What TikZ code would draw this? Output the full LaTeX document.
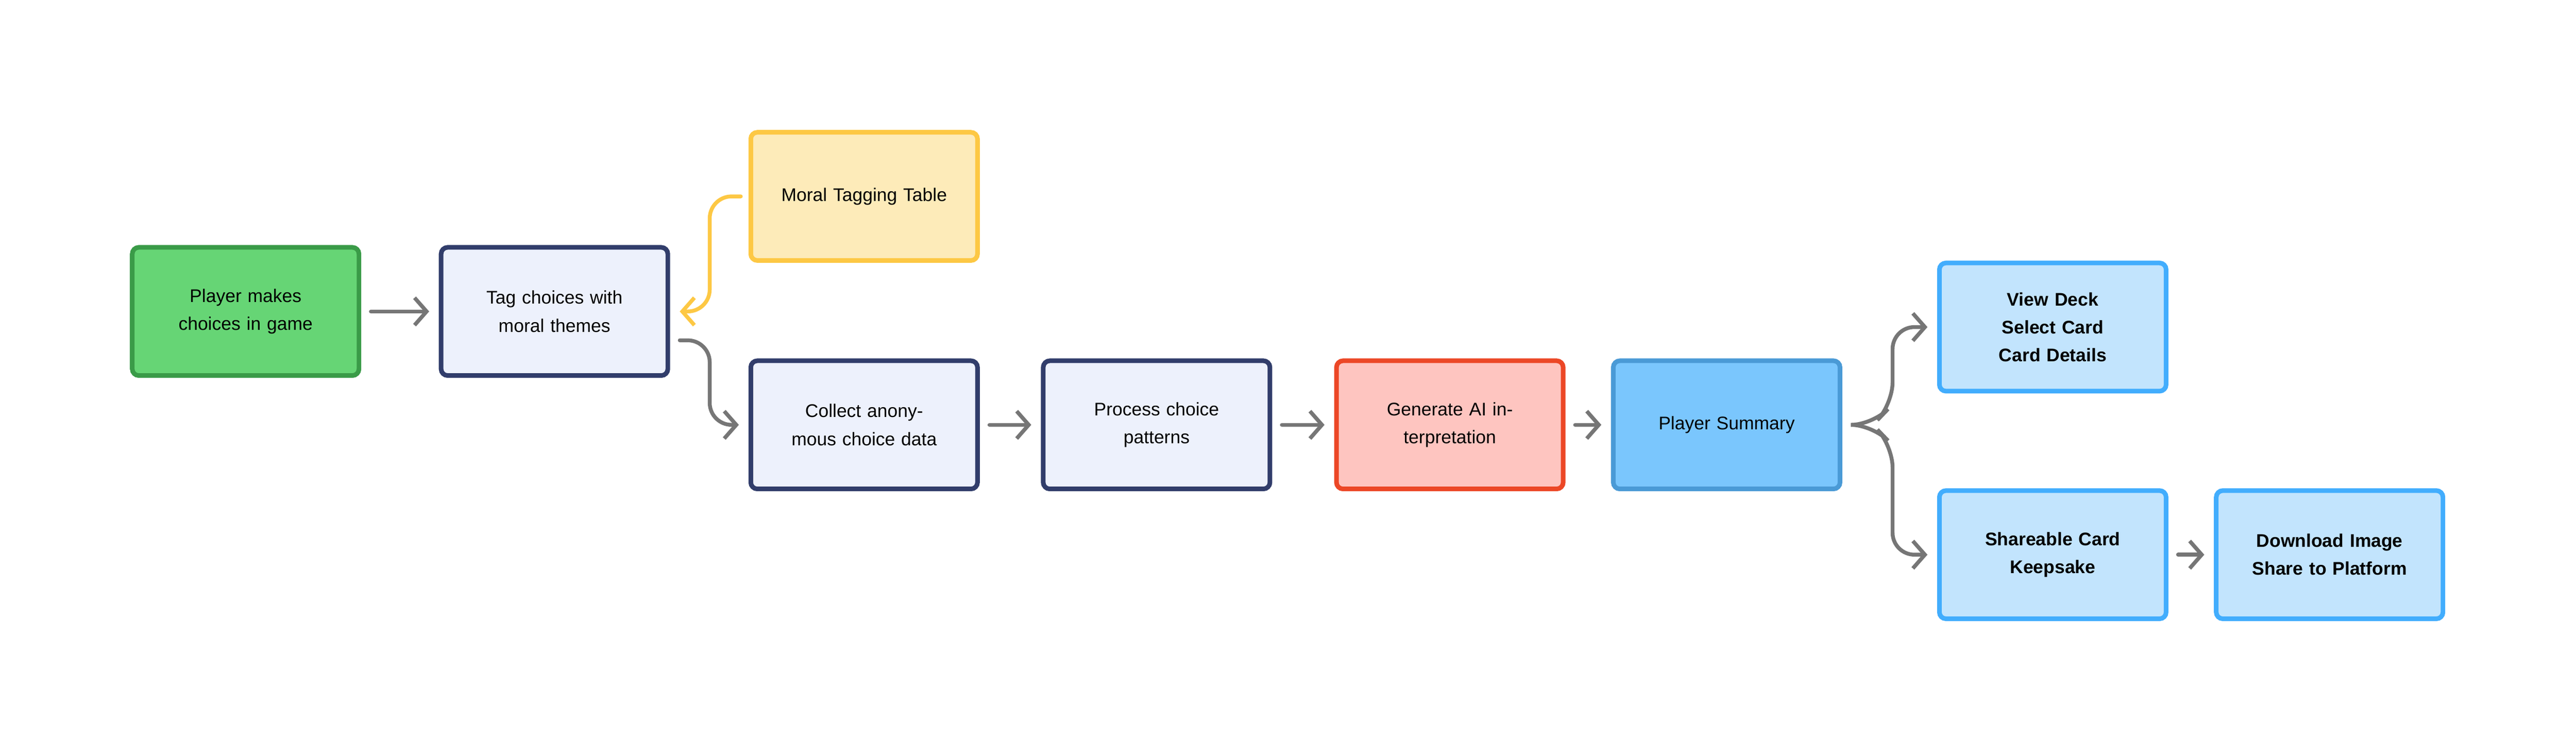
\documentclass[tikz,border=0pt]{standalone}
\usepackage{fontspec}
\setmainfont{Liberation Sans}
\usetikzlibrary{arrows.meta}
\definecolor{grn}{HTML}{66D575}
\definecolor{grnd}{HTML}{3A9B48}
\definecolor{lav}{HTML}{EDF1FC}
\definecolor{navy}{HTML}{313D6B}
\definecolor{ylw}{HTML}{FDEBB9}
\definecolor{ylwd}{HTML}{FDC844}
\definecolor{pnk}{HTML}{FEC5C0}
\definecolor{redd}{HTML}{EC4726}
\definecolor{sky}{HTML}{7AC6FD}
\definecolor{skyd}{HTML}{4A9AD6}
\definecolor{pale}{HTML}{C2E4FD}
\definecolor{bld}{HTML}{42ADFD}
\definecolor{ln}{HTML}{767676}
\tikzset{
  box/.style={draw, rounded corners=1.2mm, line width=2.4pt, minimum width=41.4mm,
    minimum height=23.4mm, align=center, text width=36mm, font=\fontsize{9.5}{14.5}\selectfont},
  flow/.style={draw=ln, line width=2pt, line cap=round, rounded corners=4mm,
    -{Straight Barb[length=2.2mm,width=5mm,line width=2pt]}},
}
\begin{document}
\begin{tikzpicture}[x=0.3mm,y=-0.3mm]
\useasboundingbox (0,0) rectangle (1568,458);
\node[box, fill=grn, draw=grnd] (player) at (149.5,189.5) {Player makes choices in game};
\node[box, fill=lav, draw=navy] (tag) at (337.5,189.5) {Tag choices with moral themes};
\node[box, fill=ylw, draw=ylwd] (table) at (526,119.5) {Moral Tagging Table};
\node[box, fill=lav, draw=navy] (collect) at (526,258.5) {Collect anonymous choice data};
\node[box, fill=lav, draw=navy] (process) at (704,258.5) {Process choice patterns};
\node[box, fill=pnk, draw=redd] (ai) at (882.5,258.5) {Generate AI interpretation};
\node[box, fill=sky, draw=skyd] (summary) at (1051,258.5) {Player Summary};
\node[box, fill=pale, draw=bld, font=\bfseries\fontsize{9.5}{14.5}\selectfont] (deck) at (1249.5,199) {View Deck\\Select Card\\Card Details};
\node[box, fill=pale, draw=bld, font=\bfseries\fontsize{9.5}{14.5}\selectfont] (share) at (1249.5,337.5) {Shareable Card\\Keepsake};
\node[box, fill=pale, draw=bld, font=\bfseries\fontsize{9.5}{14.5}\selectfont] (download) at (1418,337.5) {Download Image\\Share to Platform};

\draw[flow] ([xshift=5]player.east) -- ([xshift=-5]tag.west);
\draw[flow, draw=ylwd] ([xshift=-4]table.west) -| (432,189.5) -- ([xshift=5]tag.east);
\draw[flow] ([xshift=5,yshift=-15]tag.east) -| (432,258.5) -- ([xshift=-5]collect.west);
\draw[flow] ([xshift=5]collect.east) -- ([xshift=-5]process.west);
\draw[flow] ([xshift=5]process.east) -- ([xshift=-5]ai.west);
\draw[flow] ([xshift=5]ai.east) -- ([xshift=-5]summary.west);
\draw[flow] ([xshift=5]summary.east) -- (1140,258.5) -- (1152,246) |- ([xshift=-5]deck.west);
\draw[flow] ([xshift=5]summary.east) -- (1140,258.5) -- (1152,271) |- ([xshift=-5]share.west);
\draw[flow] ([xshift=5]share.east) -- ([xshift=-5]download.west);
\end{tikzpicture}
\end{document}
